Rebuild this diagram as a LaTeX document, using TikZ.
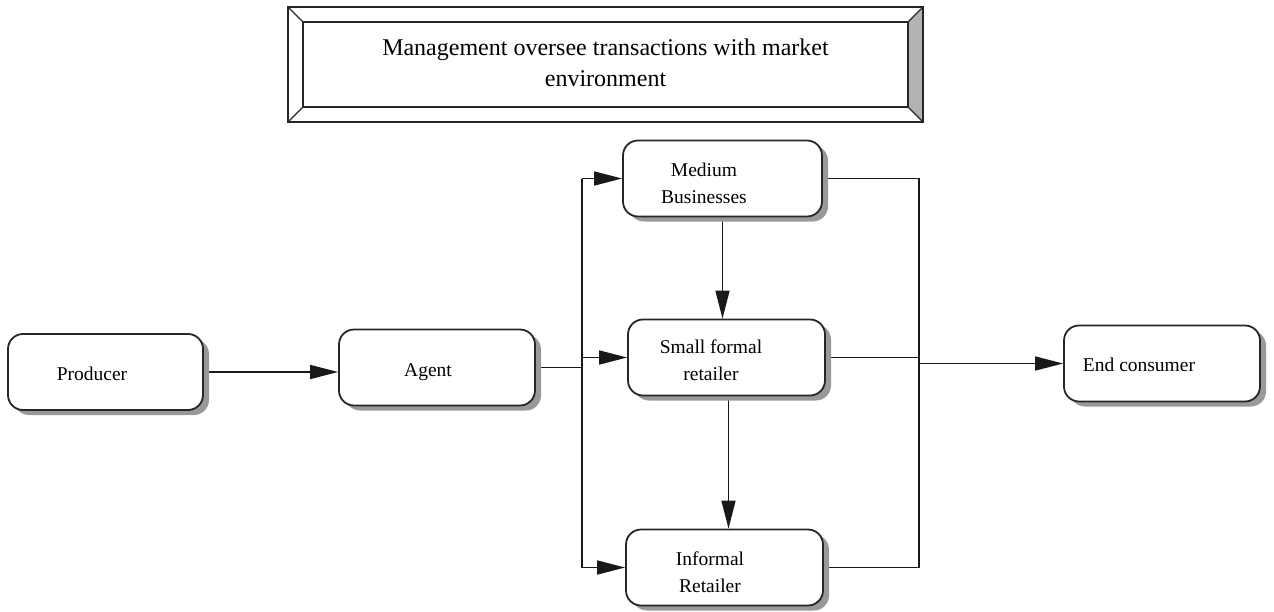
\documentclass[tikz,border=0pt]{standalone}
\usepackage{fontspec}
\setmainfont{Liberation Serif}
\usetikzlibrary{arrows.meta,backgrounds,shadows}

\tikzset{
  stagebox/.style={draw=black!85, line width=1.8pt, fill=white, rounded corners=15pt,
    minimum width=#1, minimum height=76pt, inner sep=0pt,
    drop shadow={shadow xshift=6pt, shadow yshift=-5pt, fill=black!40, opacity=1}},
  stagebox/.default=197pt,
  stagetext/.style={font=\fontsize{19.5}{27}\selectfont, align=center, inner sep=0pt},
  link/.style={line width=1.5pt, draw=black!90},
  flow/.style={link, -{Triangle[length=28pt, width=14pt]}},
}

\begin{document}
\begin{tikzpicture}[x=1pt, y=-1pt]
\useasboundingbox (0,0) rectangle (1274,611);

% bevelled heading frame
\coordinate (fo1) at (288,7);   \coordinate (fo2) at (923,7);
\coordinate (fo3) at (923,122); \coordinate (fo4) at (288,122);
\coordinate (fi1) at (303,22);  \coordinate (fi2) at (908,22);
\coordinate (fi3) at (908,107); \coordinate (fi4) at (303,107);
\fill[black!30] (fo2) -- (fo3) -- (fi3) -- (fi2) -- cycle;
\draw[line width=1.8pt, black!85] (fo1) rectangle (fo3);
\draw[line width=1.6pt, black!85] (fi1) rectangle (fi3);
\draw[line width=1.2pt, black!85] (fo1) -- (fi1) (fo2) -- (fi2) (fo3) -- (fi3) (fo4) -- (fi4);
\node[font=\fontsize{24}{31}\selectfont, align=center, inner sep=0pt] (mgmt) at (605.5,63)
  {Management oversee transactions with market\\environment};

% stage boxes
\node[stagebox=195pt] (prod) at (105.5,372) {};
\node[stagebox=196pt] (agent) at (437,367.5) {};
\node[stagebox=199pt] (med) at (722.5,178.5) {};
\node[stagebox=197pt] (small) at (726.5,357.5) {};
\node[stagebox=197pt] (inf) at (724.5,567.5) {};
\node[stagebox=196pt] (endc) at (1162,363.5) {};

% stage labels
\node[stagetext] (prodtxt) at (92,374) {Producer};
\node[stagetext] (agenttxt) at (428,372) {Agent};
\node[stagetext] (medtxt) at (704,183) {Medium\\Businesses};
\node[stagetext] (smalltxt) at (711,360) {Small formal\\retailer};
\node[stagetext] (inftxt) at (710,572) {Informal\\Retailer};
\node[stagetext] (endtxt) at (1139,365) {End consumer};

% distribution buses
\coordinate (busL) at (582,0);
\coordinate (busR) at (919,0);

\begin{scope}[on background layer]
  \draw[flow] (prod.east) -- (prod.east -| agent.west);
  \draw[link] (agent.east) -- (agent.east -| busL);
  \draw[link] (busL |- med.west) -- (busL |- inf.west);
  \draw[flow] (busL |- med.west) -- (med.west);
  \draw[flow] (busL |- small.west) -- (small.west);
  \draw[flow] (busL |- inf.west) -- (inf.west);
  \draw[flow] (med.south) -- (med.south |- small.north);
  \draw[flow] ([xshift=2pt]small.south) -- ([xshift=2pt]small.south |- inf.north);
  \draw[link] (med.east) -- (busR |- med.east) -- (busR |- inf.east) -- (inf.east);
  \draw[link] (small.east) -- (busR |- small.east);
  \draw[flow] (busR |- endc.west) -- (endc.west);
\end{scope}
\end{tikzpicture}
\end{document}
